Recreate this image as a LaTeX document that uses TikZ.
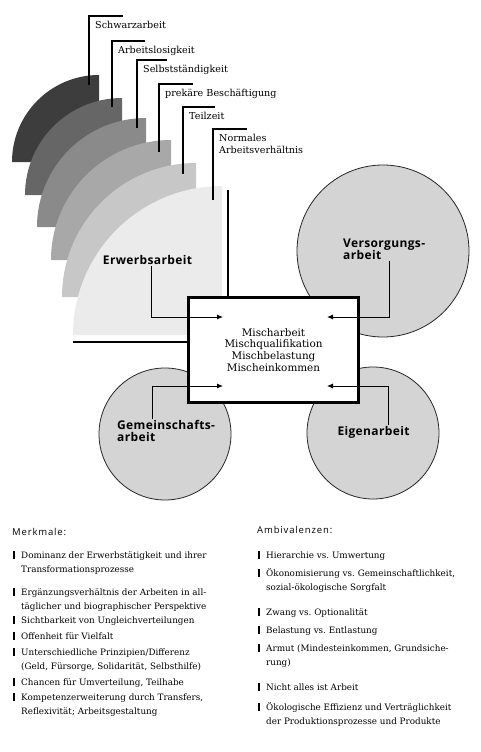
\documentclass[tikz,border=0pt]{standalone}
\usepackage{fontspec}
\setmainfont{DejaVu Serif}
\newfontfamily\labelsans{Open Sans}[LetterSpace=3]
\newfontfamily\headsans{Open Sans}[LetterSpace=9]
\usetikzlibrary{arrows.meta}

\newcommand{\bul}{\llap{\rule[-0.5pt]{2.4pt}{8pt}\hspace{6pt}}}

\begin{document}
\frenchspacing
\begin{tikzpicture}[x=1pt, y=-1pt,
    tag/.style={anchor=north west, inner xsep=6pt, inner ysep=5pt, align=left, font=\fontsize{9.6}{12}\selectfont},
    lead/.style={line width=1.1pt},
    circ/.style={circle, draw=black!85, line width=0.8pt, fill=black!17},
    work/.style={align=left, inner sep=1pt, font=\labelsans\bfseries\fontsize{12}{12}\selectfont},
    feed/.style={line width=0.9pt, -{Latex[length=6pt, width=5pt]}},
    item/.style={anchor=north west, inner sep=0pt, align=left, font=\fontsize{8.8}{14}\selectfont},
    head/.style={anchor=north west, inner sep=0pt, font=\headsans\fontsize{9.5}{12}\selectfont}]
    \useasboundingbox (0,0) rectangle (480,752);

    % sectors of Erwerbsarbeit, back to front
    \fill[black!76] (99,162) -- (12,162) arc[start angle=180, end angle=270, radius=87] -- cycle;
    \fill[black!60] (122,195) -- (25,195) arc[start angle=180, end angle=270, radius=97] -- cycle;
    \fill[black!46] (146,227) -- (37,227) arc[start angle=180, end angle=270, radius=109] -- cycle;
    \fill[black!34] (171,260) -- (51,260) arc[start angle=180, end angle=270, radius=120] -- cycle;
    \fill[black!22] (196,297) -- (62,297) arc[start angle=180, end angle=270, radius=134] -- cycle;
    \fill[black!8] (222,335) -- (73,335) arc[start angle=180, end angle=270, radius=149] -- cycle;

    \coordinate (schwarzFoot) at (89,85);
    \coordinate (losFoot) at (112,107);
    \coordinate (selbstFoot) at (137,128);
    \coordinate (prekaerFoot) at (159,152);
    \coordinate (teilFoot) at (183,174);
    \coordinate (normalFoot) at (213,200);

    \node[tag] (schwarz) at (89,16) {Schwarzarbeit};
    \node[tag] (los) at (112,41) {Arbeitslosigkeit};
    \node[tag] (selbst) at (137,60) {Selbstständigkeit};
    \node[tag] (prekaer) at (159,84) {prekäre Beschäftigung};
    \node[tag] (teil) at (183,107) {Teilzeit};
    \node[tag] (normal) at (213,129) {Normales\\Arbeitsverhältnis};

    \draw[lead] (schwarzFoot) |- ([xshift=34pt]schwarz.north west);
    \draw[lead] (losFoot) |- ([xshift=33pt]los.north west);
    \draw[lead] (selbstFoot) |- ([xshift=30pt]selbst.north west);
    \draw[lead] (prekaerFoot) |- ([xshift=34pt]prekaer.north west);
    \draw[lead] (teilFoot) |- ([xshift=32pt]teil.north west);
    \draw[lead] (normalFoot) |- ([xshift=34pt]normal.north west);

    % the other forms of work
    \node[circ, minimum size=172pt] (versorgKreis) at (383,251) {};
    \node[circ, minimum size=132pt] (gemeinKreis) at (165,434) {};
    \node[circ, minimum size=132pt] (eigenKreis) at (373,433) {};

    \node[draw, line width=2.6pt, fill=white, minimum width=170pt, minimum height=105pt,
          align=center, font=\fontsize{10.4}{11.8}\selectfont] (misch) at (273.5,350)
        {Mischarbeit\\Mischqualifikation\\Mischbelastung\\Mischeinkommen};

    \coordinate (axisTop) at (228,190);
    \coordinate (axisLeft) at (73,342);
    \draw[lead] (axisTop) -- (axisTop |- misch.north);
    \draw[lead] (axisLeft) -- (axisLeft -| misch.west);

    \node[work] (erwerb) at (147.5,260) {Erwerbsarbeit};
    \node[work, anchor=north west] (versorg) at (342,237.5) {Versorgungs-\\arbeit};
    \node[work, anchor=north west] (gemein) at (116,419) {Gemeinschafts-\\arbeit};
    \node[work] (eigen) at (373.5,432) {Eigenarbeit};

    \coordinate (tipErwerb) at (223,317);
    \coordinate (tipVersorg) at (327,317);
    \coordinate (tipGemein) at (223,386);
    \coordinate (tipEigen) at (327,386);

    \draw[feed] ([xshift=3.5pt]erwerb.south) |- (tipErwerb);
    \draw[feed] ([xshift=5.5pt]versorg.south) |- (tipVersorg);
    \draw[feed] ([xshift=-13.5pt]gemein.north) |- (tipGemein);
    \draw[feed] ([xshift=14.5pt]eigen.north) |- (tipEigen);

    % lists below
    \node[head] (merkmale) at (12,528) {Merkmale:};
    \node[head] (ambi) at (257,526) {Ambivalenzen:};

    \node[item] (merk1) at (21,550.5) {\bul Dominanz der Erwerbstätigkeit und ihrer\\Transformationsprozesse};
    \node[item] (merk2) at (21,587.5) {\bul Ergänzungsverhältnis der Arbeiten in all-\\täglicher und biographischer Perspektive};
    \node[item] (merk3) at (21,615.5) {\bul Sichtbarkeit von Ungleichverteilungen};
    \node[item] (merk4) at (21,631.5) {\bul Offenheit für Vielfalt};
    \node[item] (merk5) at (21,647.5) {\bul Unterschiedliche Prinzipien/Differenz\\(Geld, Fürsorge, Solidarität, Selbsthilfe)};
    \node[item] (merk6) at (21,677.5) {\bul Chancen für Umverteilung, Teilhabe};
    \node[item] (merk7) at (21,692.5) {\bul Kompetenzerweiterung durch Transfers,\\Reflexivität; Arbeitsgestaltung};

    \node[item] (amb1) at (266,550.5) {\bul Hierarchie vs. Umwertung};
    \node[item] (amb2) at (266,568.5) {\bul Ökonomisierung vs. Gemeinschaftlichkeit,\\sozial-ökologische Sorgfalt};
    \node[item] (amb3) at (266,607.5) {\bul Zwang vs. Optionalität};
    \node[item] (amb4) at (266,625.5) {\bul Belastung vs. Entlastung};
    \node[item] (amb5) at (266,643.5) {\bul Armut (Mindesteinkommen, Grundsiche-\\rung)};
    \node[item] (amb6) at (266,682.5) {\bul Nicht alles ist Arbeit};
    \node[item] (amb7) at (266,702.5) {\bul Ökologische Effizienz und Verträglichkeit\\der Produktionsprozesse und Produkte};
\end{tikzpicture}
\end{document}
